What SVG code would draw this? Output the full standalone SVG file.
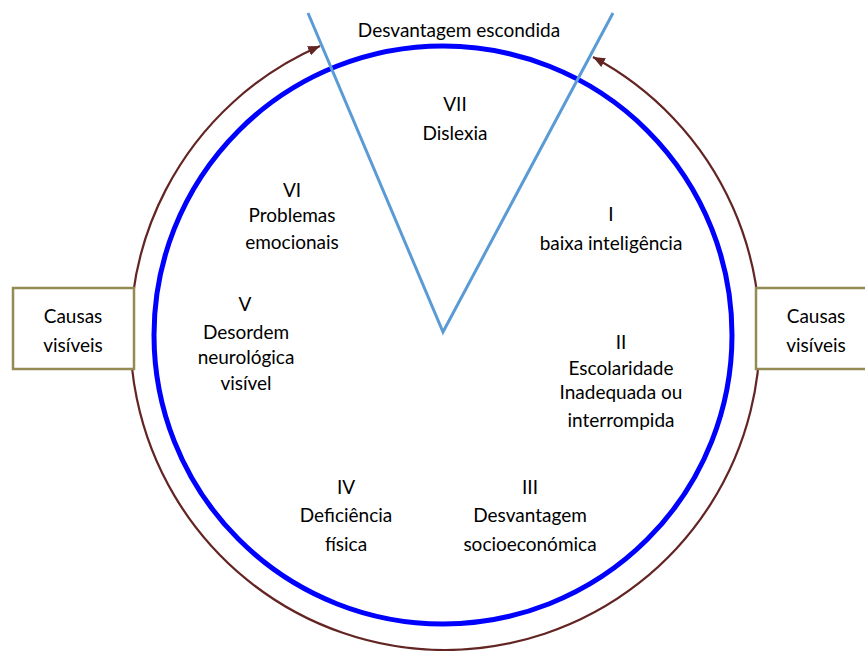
<svg xmlns="http://www.w3.org/2000/svg" width="865" height="651" viewBox="0 0 865 651">
<style>
text{font-family:Lato,"Open Sans","DejaVu Sans",sans-serif;font-size:19px;fill:#000;text-anchor:middle}
.box{fill:#fff;stroke:#948A54;stroke-width:2.5}
.arc{fill:none;stroke:#632523;stroke-width:2.2}
.v{fill:none;stroke:#5B9BD5;stroke-width:3}
</style>
<defs>
<marker id="ah" viewBox="0 0 12 10" refX="12" refY="5" markerWidth="12" markerHeight="10" markerUnits="userSpaceOnUse" orient="auto">
<path d="M0,0 L12,5 L0,10 Z" fill="#632523"/>
</marker>
</defs>
<g id="connectors">
<path class="arc" d="M445,650 A315,315 0 0 1 320,46" marker-end="url(#ah)"/>
<path class="arc" d="M445,650 A315,315 0 0 0 593,57" marker-end="url(#ah)"/>
</g>
<g id="circle">
<circle cx="443" cy="335" r="289" fill="none" stroke="#0000FF" stroke-width="5"/>
</g>
<g id="wedge">
<polyline class="v" points="308,13 443,332 613,13"/>
</g>
<g id="box-left">
<rect class="box" x="13" y="288" width="121" height="81"/>
<text x="73" y="323">Causas</text>
<text x="73" y="352">visíveis</text>
</g>
<g id="box-right">
<rect class="box" x="756" y="288" width="112" height="81"/>
<text x="816" y="323">Causas</text>
<text x="816" y="352">visíveis</text>
</g>
<g id="hidden"><text x="459" y="37">Desvantagem escondida</text></g>
<g id="s7"><text x="455" y="111">VII</text><text x="455" y="140">Dislexia</text></g>
<g id="s6"><text x="292" y="197">VI</text><text x="292" y="222">Problemas</text><text x="292" y="249">emocionais</text></g>
<g id="s1"><text x="611" y="221">I</text><text x="611" y="250">baixa inteligência</text></g>
<g id="s5"><text x="245" y="311">V</text><text x="246" y="339">Desordem</text><text x="246" y="364">neurológica</text><text x="246" y="390">visível</text></g>
<g id="s2"><text x="621" y="349">II</text><text x="621" y="375">Escolaridade</text><text x="621" y="399">Inadequada ou</text><text x="621" y="427">interrompida</text></g>
<g id="s3"><text x="530" y="494">III</text><text x="530" y="522">Desvantagem</text><text x="530" y="551">socioeconómica</text></g>
<g id="s4"><text x="346" y="494">IV</text><text x="346" y="522">Deficiência</text><text x="346" y="551">física</text></g>
</svg>
